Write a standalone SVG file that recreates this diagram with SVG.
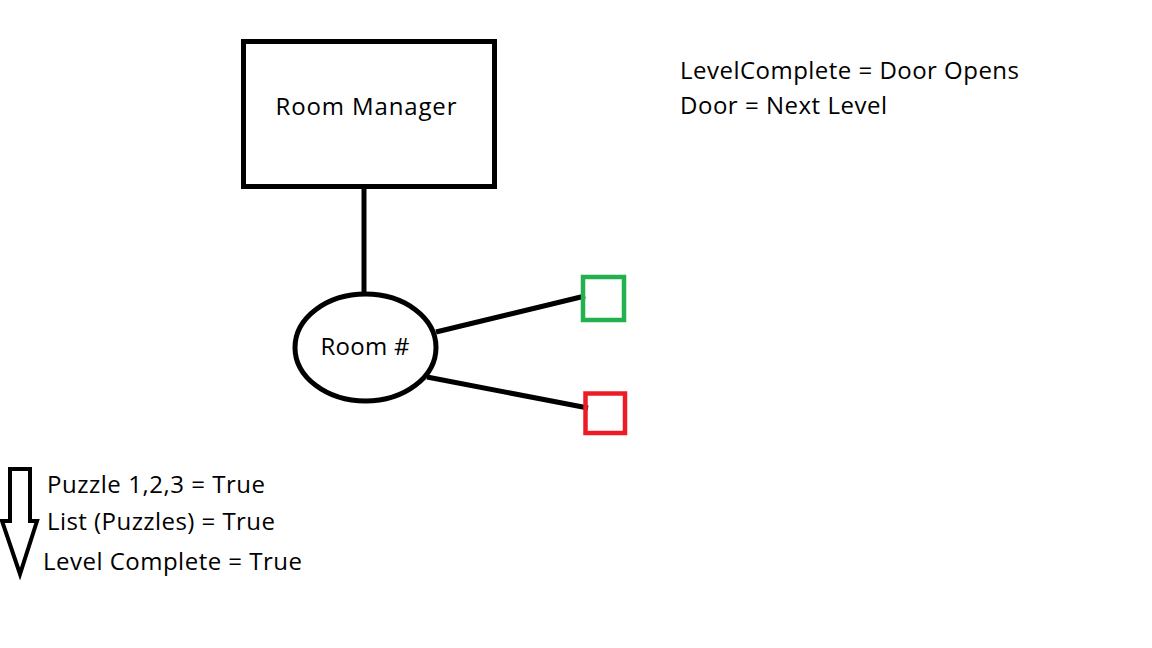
<svg xmlns="http://www.w3.org/2000/svg" width="1152" height="648" viewBox="0 0 1152 648">
<style>
text{font-family:"Open Sans","Noto Sans",sans-serif;font-size:24px;fill:#000}
.ln{stroke:#000;stroke-width:5;fill:none}
</style>
<rect width="1152" height="648" fill="#fff"/>
<g id="connectors">
<line class="ln" x1="364" y1="188" x2="364" y2="296"/>
<line class="ln" x1="436" y1="332" x2="585" y2="296"/>
<line class="ln" x1="427" y1="377" x2="588" y2="408"/>
</g>
<g id="room-manager">
<rect x="243.5" y="41.5" width="251" height="145" fill="#fff" stroke="#000" stroke-width="5"/>
<text x="366" y="115" text-anchor="middle" textLength="181">Room Manager</text>
</g>
<g id="room">
<ellipse cx="365.5" cy="347.5" rx="70.5" ry="53.5" fill="#fff" stroke="#000" stroke-width="5"/>
<text x="365" y="355" text-anchor="middle" textLength="89">Room #</text>
</g>
<g id="green-box">
<rect x="583" y="277" width="41" height="43" fill="none" stroke="#22b14c" stroke-width="4.5"/>
</g>
<g id="red-box">
<rect x="585.5" y="393.5" width="39.5" height="39.5" fill="none" stroke="#ed1c24" stroke-width="4.5"/>
</g>
<g id="notes">
<text x="680" y="79" textLength="339">LevelComplete = Door Opens</text>
<text x="680" y="114" textLength="207">Door = Next Level</text>
</g>
<g id="arrow">
<polygon points="10,469 30,469 30,521 37,521 20,574 2,521 10,521" fill="#fff" stroke="#000" stroke-width="4" stroke-linejoin="miter"/>
</g>
<g id="steps">
<text x="47" y="493" textLength="218">Puzzle 1,2,3 = True</text>
<text x="47" y="530" textLength="228">List (Puzzles) = True</text>
<text x="43" y="570" textLength="259">Level Complete = True</text>
</g>
</svg>
